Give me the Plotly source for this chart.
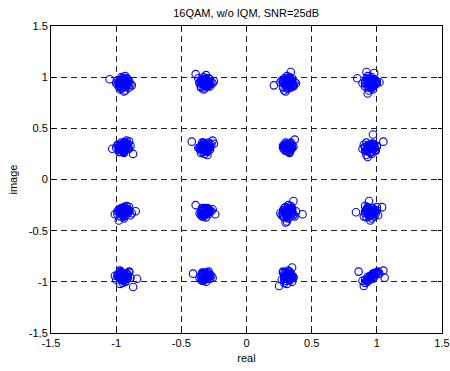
import plotly.graph_objects as go

# Received 16QAM symbols, grouped by constellation row
real_row1 = [-0.95,-0.97,-0.93,-0.96,-0.91,-0.99,-0.94,-0.92,-0.98,-0.95,-0.90,-0.96,-0.93,-1.00,-0.94,-0.97,-0.89,-0.92,-0.95,-0.98,-0.91,-0.94,-0.96,-0.88,-1.05,-0.93,-0.97,-0.90,
             -0.94,-0.96,-0.95,-0.93,-0.97,-0.95,-0.92,-0.94,-0.96,-0.98,-0.93,-0.95,-0.91,-0.97,-0.94,-0.96,-0.92,-0.95,-0.93,-0.97,-0.99,-0.94,-0.96,-0.92,
             -0.32,-0.30,-0.34,-0.29,-0.35,-0.31,-0.27,-0.33,-0.36,-0.30,-0.28,-0.32,-0.34,-0.26,-0.31,-0.39,-0.33,-0.29,-0.35,-0.31,-0.25,-0.32,-0.37,-0.30,-0.33,-0.28,-0.34,-0.31,
             -0.31,-0.33,-0.32,-0.30,-0.34,-0.32,-0.29,-0.31,-0.33,-0.35,-0.30,-0.32,-0.28,-0.34,-0.31,-0.33,-0.29,-0.32,-0.30,-0.34,-0.36,-0.31,-0.33,-0.29,
             0.32,0.30,0.34,0.29,0.35,0.31,0.37,0.33,0.28,0.36,0.30,0.32,0.34,0.38,0.31,0.21,0.26,0.34,0.29,0.33,0.27,0.35,0.31,0.30,0.36,0.32,0.28,0.33,
             0.33,0.31,0.32,0.34,0.30,0.32,0.35,0.33,0.31,0.29,0.34,0.32,0.36,0.30,0.33,0.31,0.35,0.32,0.34,0.30,0.28,0.33,0.31,0.35,
             0.95,0.97,0.93,0.96,0.91,0.99,0.94,0.92,0.98,0.95,1.00,0.96,0.93,0.89,0.94,0.97,0.85,0.92,0.95,0.98,1.02,0.93,0.96,0.91,0.94,0.99,0.97,0.93,
             0.96,0.94,0.95,0.97,0.93,0.95,0.98,0.96,0.94,0.92,0.97,0.95,0.99,0.93,0.96,0.94,0.98,0.95,0.97,0.93,0.91,0.96,0.94,1.00]
imag_row1 = [0.96,0.93,0.98,1.00,0.94,0.97,0.91,0.99,0.95,0.92,0.96,0.89,1.01,0.94,0.97,0.88,0.93,0.95,0.99,0.91,0.98,0.86,0.95,0.92,0.98,0.87,0.96,0.90,
             0.95,0.94,0.97,0.93,0.96,0.92,0.95,0.98,0.91,0.94,0.96,0.99,0.93,0.90,0.95,0.97,0.92,0.94,0.90,0.95,0.93,0.97,0.91,0.96,
             0.95,0.97,0.93,0.99,0.96,0.92,0.95,1.00,0.94,0.91,0.98,0.89,0.97,0.94,1.02,1.03,0.96,0.93,0.90,0.98,0.96,0.92,0.99,0.95,0.88,0.91,0.96,0.94,
             0.96,0.94,0.95,0.93,0.97,0.92,0.95,0.98,0.94,0.91,0.96,0.97,0.93,0.95,0.99,0.94,0.92,0.96,0.93,0.98,0.95,0.91,0.97,0.94,
             0.95,0.97,0.93,0.99,0.96,0.92,0.95,1.00,0.94,0.91,0.98,0.89,0.97,0.94,1.01,0.92,0.95,1.05,0.87,0.90,0.97,0.99,0.93,0.86,0.92,0.96,0.90,0.98,
             0.94,0.96,0.93,0.95,0.97,0.91,0.94,0.98,0.92,0.95,0.90,0.96,0.93,0.94,0.97,0.89,0.95,0.99,0.92,0.93,0.96,0.91,0.95,0.97,
             0.96,0.93,0.98,1.00,0.94,0.97,0.91,0.99,0.95,0.92,0.96,0.89,1.01,0.94,0.97,0.88,0.99,1.05,0.93,1.04,0.95,0.84,0.98,0.91,0.87,0.93,0.96,0.90,
             0.95,0.97,0.93,0.96,0.94,0.92,0.98,0.95,0.91,0.96,0.93,0.99,0.94,0.97,0.90,0.95,0.92,0.96,0.98,0.93,0.95,0.91,0.97,0.94]

real_row2 = [-0.95,-0.97,-0.93,-0.96,-0.91,-0.99,-0.94,-0.92,-0.98,-0.95,-0.90,-0.96,-0.93,-1.03,-0.94,-0.97,-0.87,-0.92,-0.95,-0.98,-0.91,-0.94,-0.96,-0.89,-1.00,-0.93,-0.97,-0.90,
             -0.96,-0.94,-0.95,-0.97,-0.93,-0.95,-0.98,-0.96,-0.94,-0.92,-0.97,-0.95,-0.99,-0.93,-0.96,-0.94,-0.91,-0.95,-0.97,-0.93,-0.95,-0.96,-0.94,-0.92,
             -0.32,-0.30,-0.34,-0.29,-0.35,-0.31,-0.27,-0.33,-0.36,-0.30,-0.28,-0.32,-0.34,-0.26,-0.31,-0.42,-0.33,-0.29,-0.35,-0.31,-0.25,-0.32,-0.37,-0.30,-0.33,-0.28,-0.34,-0.31,
             -0.31,-0.33,-0.32,-0.30,-0.34,-0.32,-0.29,-0.31,-0.33,-0.35,-0.30,-0.32,-0.28,-0.34,-0.31,-0.33,-0.29,-0.32,-0.30,-0.34,-0.36,-0.31,-0.33,-0.29,
             0.32,0.30,0.34,0.31,0.33,0.29,0.35,0.32,0.30,0.34,0.28,0.33,0.31,0.37,0.32,0.29,0.35,0.31,0.33,0.30,0.34,0.32,0.28,0.36,0.31,0.33,
             0.31,0.33,0.32,0.30,0.34,0.32,0.29,0.31,0.33,0.35,0.30,0.32,0.31,0.33,0.29,0.32,0.34,0.30,0.33,0.31,
             0.95,0.97,0.93,0.96,0.91,0.99,0.94,0.92,0.98,0.95,1.00,0.96,0.93,0.89,0.94,0.97,1.05,0.92,0.95,0.98,0.97,0.93,0.96,0.91,0.94,0.99,0.90,0.93,
             0.96,0.94,0.95,0.97,0.93,0.95,0.98,0.96,0.94,0.92,0.97,0.95,0.99,0.93,0.96,0.94,0.98,0.95,0.97,0.93,0.91,0.96,0.94,1.00]
imag_row2 = [0.32,0.34,0.30,0.36,0.31,0.33,0.28,0.35,0.32,0.29,0.37,0.31,0.34,0.30,0.26,0.33,0.25,0.38,0.30,0.27,0.35,0.32,0.29,0.33,0.31,0.36,0.27,0.30,
             0.31,0.33,0.32,0.30,0.34,0.31,0.29,0.33,0.35,0.31,0.32,0.28,0.34,0.32,0.30,0.36,0.31,0.33,0.29,0.34,0.30,0.32,0.27,0.33,
             0.31,0.33,0.29,0.35,0.32,0.28,0.34,0.36,0.30,0.27,0.33,0.25,0.31,0.38,0.29,0.37,0.34,0.30,0.26,0.32,0.35,0.28,0.31,0.24,0.33,0.29,0.36,0.30,
             0.32,0.30,0.33,0.31,0.29,0.34,0.32,0.30,0.35,0.31,0.28,0.33,0.31,0.29,0.34,0.32,0.36,0.30,0.33,0.27,0.31,0.34,0.32,0.30,
             0.31,0.33,0.29,0.35,0.30,0.32,0.34,0.28,0.36,0.31,0.33,0.27,0.30,0.39,0.32,0.29,0.31,0.34,0.26,0.33,0.36,0.30,0.31,0.32,0.28,0.35,
             0.32,0.30,0.33,0.31,0.29,0.34,0.32,0.30,0.35,0.31,0.28,0.33,0.31,0.29,0.34,0.32,0.30,0.33,0.27,0.31,
             0.31,0.33,0.29,0.35,0.32,0.28,0.34,0.36,0.30,0.27,0.33,0.25,0.31,0.30,0.29,0.44,0.37,0.24,0.26,0.32,0.35,0.22,0.31,0.28,0.33,0.29,0.34,0.30,
             0.30,0.32,0.31,0.33,0.29,0.31,0.34,0.30,0.32,0.28,0.35,0.31,0.29,0.33,0.27,0.31,0.32,0.30,0.34,0.28,0.31,0.33,0.29,0.32]

real_row3 = [-0.95,-0.97,-0.93,-0.96,-0.91,-0.99,-0.94,-0.92,-0.98,-0.95,-0.90,-0.96,-0.93,-1.01,-0.94,-0.97,-0.85,-0.92,-0.95,-0.98,-0.91,-0.94,-0.96,-0.89,-0.88,-0.93,-0.97,-0.90,
             -0.96,-0.94,-0.95,-0.97,-0.93,-0.95,-0.98,-0.96,-0.94,-0.92,-0.97,-0.95,-0.99,-0.93,-0.96,-0.94,-0.91,-0.95,-0.97,-0.93,-0.90,-0.96,-0.94,-0.92,
             -0.32,-0.30,-0.34,-0.31,-0.33,-0.29,-0.35,-0.32,-0.30,-0.34,-0.28,-0.33,-0.31,-0.39,-0.32,-0.29,-0.24,-0.31,-0.33,-0.30,-0.34,-0.32,-0.27,-0.36,-0.31,-0.26,
             -0.31,-0.33,-0.32,-0.30,-0.34,-0.32,-0.29,-0.31,-0.33,-0.35,-0.30,-0.32,-0.31,-0.33,-0.29,-0.32,-0.34,-0.30,-0.33,-0.31,
             0.32,0.30,0.34,0.29,0.35,0.31,0.37,0.33,0.28,0.36,0.30,0.32,0.34,0.43,0.31,0.36,0.26,0.34,0.29,0.33,0.27,0.35,0.31,0.30,0.38,0.32,0.28,0.33,
             0.33,0.31,0.32,0.34,0.30,0.32,0.35,0.33,0.31,0.29,0.34,0.32,0.36,0.30,0.33,0.31,0.35,0.32,0.34,0.30,0.28,0.33,0.31,0.35,
             0.95,0.97,0.93,0.96,0.91,0.99,0.94,0.92,0.98,0.95,1.00,0.96,0.93,0.84,0.94,0.97,1.04,0.92,0.95,0.98,1.01,0.93,0.96,0.91,0.94,0.99,0.90,0.93,
             0.96,0.94,0.95,0.97,0.93,0.95,0.98,0.96,0.94,0.92,0.97,0.95,0.99,0.93,0.96,0.94,0.98,0.95,0.97,0.93,0.91,0.96,0.94,1.00]
imag_row3 = [-0.32,-0.30,-0.34,-0.28,-0.33,-0.31,-0.36,-0.29,-0.32,-0.35,-0.27,-0.33,-0.30,-0.34,-0.38,-0.31,-0.31,-0.26,-0.34,-0.40,-0.29,-0.33,-0.30,-0.35,-0.33,-0.28,-0.36,-0.31,
             -0.31,-0.33,-0.32,-0.30,-0.34,-0.31,-0.29,-0.33,-0.35,-0.31,-0.32,-0.28,-0.34,-0.32,-0.30,-0.36,-0.31,-0.33,-0.29,-0.34,-0.30,-0.32,-0.27,-0.33,
             -0.32,-0.30,-0.34,-0.29,-0.33,-0.31,-0.35,-0.28,-0.32,-0.36,-0.30,-0.33,-0.31,-0.25,-0.34,-0.29,-0.34,-0.37,-0.30,-0.32,-0.28,-0.35,-0.31,-0.33,-0.30,-0.29,
             -0.32,-0.30,-0.33,-0.31,-0.29,-0.34,-0.32,-0.30,-0.35,-0.31,-0.28,-0.33,-0.31,-0.29,-0.34,-0.32,-0.30,-0.33,-0.36,-0.31,
             -0.32,-0.30,-0.34,-0.28,-0.33,-0.31,-0.36,-0.29,-0.32,-0.35,-0.27,-0.38,-0.30,-0.34,-0.41,-0.21,-0.33,-0.26,-0.37,-0.30,-0.35,-0.28,-0.33,-0.42,-0.31,-0.25,-0.36,-0.30,
             -0.31,-0.33,-0.32,-0.30,-0.34,-0.31,-0.29,-0.33,-0.35,-0.31,-0.32,-0.28,-0.34,-0.32,-0.30,-0.36,-0.31,-0.33,-0.29,-0.34,-0.30,-0.32,-0.37,-0.33,
             -0.32,-0.30,-0.34,-0.28,-0.33,-0.31,-0.36,-0.29,-0.32,-0.35,-0.27,-0.38,-0.30,-0.32,-0.21,-0.33,-0.27,-0.37,-0.40,-0.30,-0.35,-0.28,-0.33,-0.26,-0.31,-0.34,-0.36,-0.30,
             -0.32,-0.30,-0.33,-0.31,-0.29,-0.34,-0.32,-0.30,-0.35,-0.31,-0.28,-0.33,-0.31,-0.29,-0.34,-0.32,-0.36,-0.30,-0.33,-0.27,-0.31,-0.34,-0.32,-0.30]

real_row4 = [-0.95,-0.97,-0.93,-0.96,-0.91,-0.99,-0.94,-0.92,-0.98,-0.95,-0.90,-0.96,-0.93,-1.01,-0.94,-0.97,-0.87,-0.84,-0.95,-0.98,-0.91,-0.94,-0.96,-0.89,-1.00,-0.93,-0.97,-0.90,
             -0.94,-0.96,-0.95,-0.93,-0.97,-0.95,-0.92,-0.94,-0.96,-0.98,-0.93,-0.95,-0.91,-0.97,-0.94,-0.96,-0.92,-0.95,-0.93,-0.97,-0.99,-0.94,-0.96,-0.92,
             -0.32,-0.30,-0.34,-0.31,-0.33,-0.29,-0.35,-0.32,-0.30,-0.34,-0.28,-0.33,-0.31,-0.41,-0.32,-0.29,-0.26,-0.31,-0.33,-0.30,-0.34,-0.32,-0.27,-0.36,-0.31,-0.28,
             -0.31,-0.33,-0.32,-0.30,-0.34,-0.32,-0.29,-0.31,-0.33,-0.35,-0.30,-0.32,-0.31,-0.33,-0.29,-0.32,-0.34,-0.30,-0.33,-0.31,
             0.32,0.30,0.34,0.29,0.35,0.31,0.33,0.28,0.36,0.30,0.32,0.34,0.31,0.25,0.35,0.33,0.29,0.31,0.34,0.30,0.27,0.32,0.36,0.31,0.33,0.29,
             0.31,0.33,0.32,0.30,0.34,0.32,0.29,0.31,0.33,0.35,0.30,0.32,0.31,0.33,0.29,0.32,0.34,0.30,0.33,0.31,0.28,0.35,
             0.95,0.97,0.93,0.96,0.91,0.99,0.94,0.92,0.98,0.95,1.00,0.96,0.93,0.86,0.94,0.97,1.06,1.05,0.90,0.98,1.02,0.93,0.96,0.91,0.89,1.01,0.97,0.93,
             0.96,0.94,0.95,0.97,0.93,0.95,0.98,0.96,0.94,0.92,0.97,0.95,0.99,0.93,0.96,0.94,0.98,0.95,0.97,0.93,1.00,0.96,0.94,1.01]
imag_row4 = [-0.95,-0.93,-0.97,-0.91,-0.96,-0.94,-0.99,-0.92,-0.95,-0.98,-0.90,-0.96,-1.00,-0.94,-0.97,-0.89,-1.05,-0.97,-1.01,-0.93,-0.95,-0.99,-0.92,-0.96,-0.98,-0.94,-1.02,-0.91,
             -0.95,-0.94,-0.97,-0.93,-0.96,-0.92,-0.95,-0.98,-0.91,-0.94,-0.96,-0.99,-0.93,-0.90,-0.95,-0.97,-0.92,-0.94,-1.00,-0.95,-0.93,-0.97,-0.91,-0.96,
             -0.95,-0.93,-0.97,-0.92,-0.96,-0.94,-0.98,-0.91,-0.95,-0.99,-0.93,-0.96,-0.94,-0.92,-0.97,-0.90,-0.96,-1.00,-0.93,-0.95,-0.91,-0.98,-0.94,-0.96,-0.93,-0.97,
             -0.95,-0.93,-0.96,-0.94,-0.92,-0.97,-0.95,-0.93,-0.98,-0.94,-0.91,-0.96,-0.94,-0.92,-0.97,-0.95,-0.93,-0.96,-0.99,-0.94,
             -0.95,-0.93,-0.97,-0.92,-0.96,-0.94,-0.98,-0.91,-0.95,-0.99,-0.89,-0.96,-0.93,-1.04,-0.86,-0.90,-1.01,-0.97,-0.92,-0.95,-0.98,-0.94,-0.96,-1.02,-0.93,-0.97,
             -0.95,-0.93,-0.96,-0.94,-0.92,-0.97,-0.95,-0.93,-0.98,-0.94,-0.91,-0.96,-0.94,-0.92,-0.97,-0.95,-0.93,-0.96,-0.99,-0.94,-0.90,-1.00,
             -0.95,-0.93,-0.97,-0.94,-0.98,-0.92,-0.96,-0.99,-0.93,-0.95,-0.91,-0.94,-1.00,-0.90,-0.97,-0.93,-0.96,-0.89,-1.04,-0.95,-0.92,-0.98,-0.96,-1.01,-0.99,-0.90,-0.97,-0.95,
             -0.95,-0.96,-0.94,-0.93,-0.97,-0.95,-0.92,-0.94,-0.98,-0.99,-0.93,-0.96,-0.91,-0.97,-0.94,-0.96,-0.93,-0.95,-0.92,-0.98,-0.91,-0.94,-0.97,-0.92]

tick_vals = [-1.5, -1, -0.5, 0, 0.5, 1, 1.5]
tick_text = ["-1.5", "-1", "-0.5", "0", "0.5", "1", "1.5"]

real_all = real_row1 + real_row2 + real_row3 + real_row4
imag_all = imag_row1 + imag_row2 + imag_row3 + imag_row4

fig = go.Figure()
fig.add_trace(go.Scatter(
    x=real_all, y=imag_all, mode="markers",
    marker=dict(symbol="circle-open", size=7.5, color="#0000ff", line=dict(width=1.1, color="#0000ff")),
    showlegend=False, hoverinfo="skip",
))

font = dict(family="Liberation Sans, Arial, sans-serif", size=11, color="#000")
axis_common = dict(
    tickvals=tick_vals, ticktext=tick_text, range=[-1.5, 1.5], automargin=False,
    showgrid=True, gridcolor="#222", gridwidth=1, griddash="6px,4px",
    zeroline=False, showline=True, linecolor="#000", linewidth=1, mirror="ticks",
    ticks="inside", ticklen=4, tickcolor="#000", tickfont=font,
)
fig.update_xaxes(**axis_common, title=dict(text="real", font=font, standoff=6))
fig.update_yaxes(**axis_common, title=dict(text="image", font=font, standoff=8))

fig.update_layout(
    width=450, height=371,
    margin=dict(l=51, r=8, t=26, b=38),
    paper_bgcolor="#fff", plot_bgcolor="#fff",
    title=dict(text="16QAM, w/o IQM, SNR=25dB", x=0.547, xanchor="center", y=0.965, yanchor="middle", font=font),
    font=font,
)
fig.write_html("out.html")
